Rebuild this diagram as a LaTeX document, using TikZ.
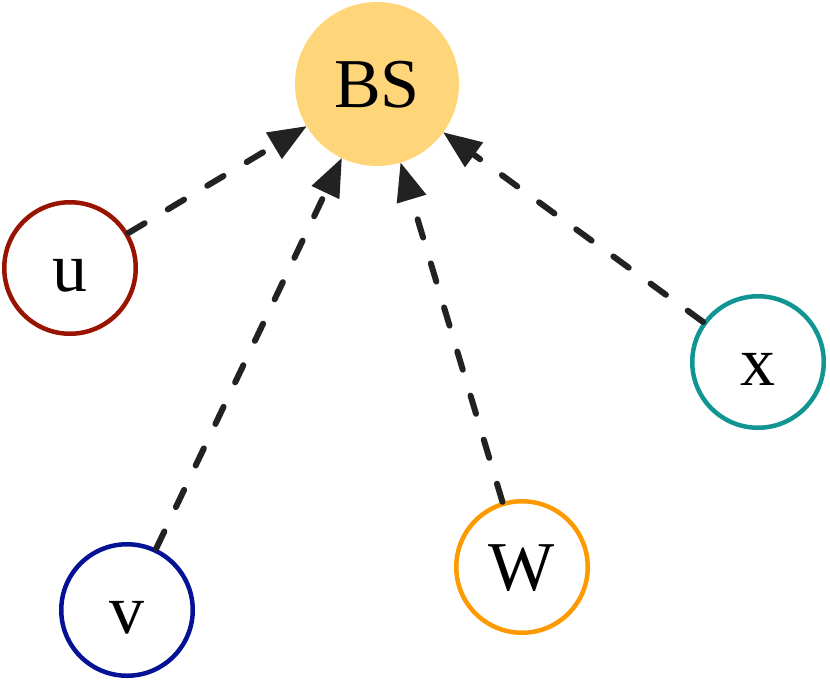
\documentclass[tikz,border=0pt]{standalone}
\usepackage{fontspec}
\setmainfont{Liberation Serif}
\usetikzlibrary{arrows.meta}
\definecolor{bsfill}{RGB}{255,213,122}
\definecolor{ured}{RGB}{153,20,0}
\definecolor{vblue}{RGB}{5,18,150}
\definecolor{worange}{RGB}{255,153,0}
\definecolor{xteal}{RGB}{17,149,146}
\definecolor{linkc}{RGB}{34,34,34}
\begin{document}
\begin{tikzpicture}[x=1pt,y=-1pt,
  every node/.style={font=\fontsize{70}{80}\selectfont, text height=46pt, text depth=0pt},
  bsnode/.style={circle, fill=bsfill, minimum size=164pt, inner sep=0pt},
  smallnode/.style={circle, draw=#1, line width=4.5pt, minimum size=131.5pt, inner sep=0pt},
  link/.style={draw=linkc, line width=6pt, line cap=round, dash pattern=on 19pt off 27pt,
    -{Triangle[length=38pt,width=31pt,line width=0pt]}}
]
\useasboundingbox (0,0) rectangle (830,681);
\node[bsnode] (BS) at (377,84) {BS};
\node[smallnode=ured] (u) at (70,268) {u};
\node[smallnode=vblue] (v) at (127,610) {v};
\node[smallnode=worange] (W) at (522,567) {W};
\node[smallnode=xteal] (x) at (758,362) {x};
\draw[link] (u) -- (BS);
\draw[link] (v) -- (BS);
\draw[link] (W) -- (BS);
\draw[link] (x) -- (BS);
\end{tikzpicture}
\end{document}
